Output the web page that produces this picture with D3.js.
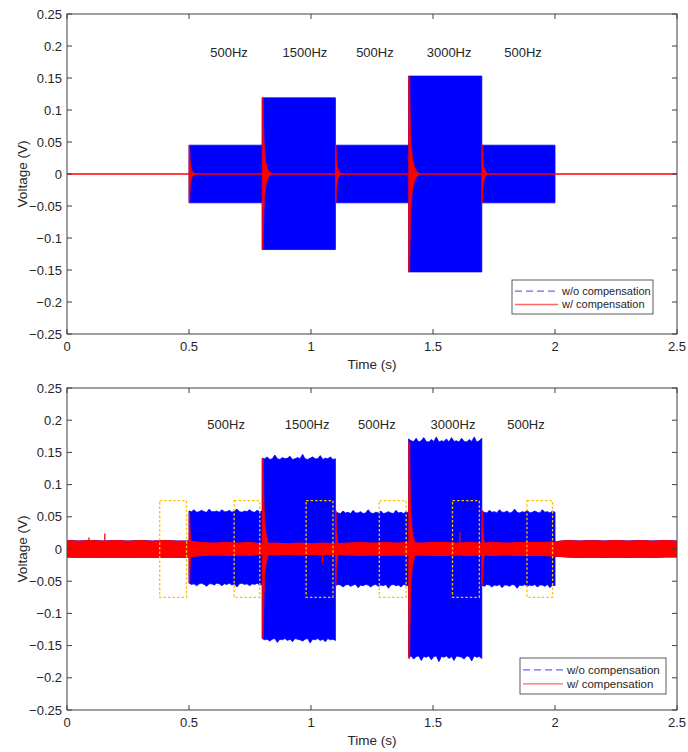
<!DOCTYPE html>
<html><head><meta charset="utf-8">
<script src="https://cdn.jsdelivr.net/npm/d3@7"></script>
<style>body{margin:0;background:#fff}svg{display:block}text{font-family:"Liberation Sans",Arial,Helvetica,sans-serif;fill:#262626}</style>
</head><body>
<script>
// ---------- DATA ----------
const segStart = [0.5, 0.8, 1.1, 1.4, 1.7];
const segEnd   = [0.8, 1.1, 1.4, 1.7, 2.0];
const freqLabels = ["500Hz", "1500Hz", "500Hz", "3000Hz", "500Hz"];
const xTicks = [0, 0.5, 1, 1.5, 2, 2.5];
const yTicks = [-0.25, -0.2, -0.15, -0.1, -0.05, 0, 0.05, 0.1, 0.15, 0.2, 0.25];
const legendLabels = ["w/o compensation", "w/ compensation"];

// top panel: ideal case
const topLabelT = [0.664, 0.975, 1.262, 1.566, 1.869];
const topLabelV = 0.19;
const topUpper = [0.045, 0.119, 0.045, 0.153, 0.045];
const topLower = [-0.045, -0.118, -0.045, -0.153, -0.045];
const topSpikeUp = [0.045, 0.119, 0.045, 0.153, 0.045];
const topSpikeLo = [-0.045, -0.118, -0.045, -0.153, -0.045];

// transient decay: time offsets (s) and relative amplitude
const decayDt  = [0, 0.005, 0.008, 0.012, 0.018, 0.026, 0.036, 0.05];
const decayRel = [1, 1, 0.55, 0.3, 0.16, 0.08, 0.03, 0];

// bottom panel: measured case (envelope samples across each tone segment)
const botLabelT = [0.652, 0.984, 1.27, 1.582, 1.881];
const botLabelV = 0.193;
const botUpper = [
  [0.059,0.058,0.061,0.057,0.058,0.060,0.058,0.057,0.062,0.058,0.058,0.059,0.057,0.061,0.058,0.058,0.060,0.057,0.059,0.062,0.058,0.057,0.059,0.058,0.061,0.058,0.057,0.060,0.058,0.059],
  [0.141,0.140,0.143,0.139,0.140,0.146,0.140,0.139,0.142,0.140,0.141,0.144,0.139,0.140,0.142,0.140,0.147,0.140,0.139,0.141,0.143,0.140,0.140,0.145,0.139,0.141,0.140,0.143,0.139,0.140],
  [0.058,0.056,0.055,0.059,0.056,0.057,0.055,0.060,0.056,0.056,0.058,0.055,0.056,0.061,0.056,0.055,0.057,0.056,0.059,0.055,0.056,0.058,0.056,0.055,0.060,0.056,0.057,0.055,0.058,0.056],
  [0.171,0.168,0.167,0.172,0.166,0.168,0.173,0.167,0.166,0.170,0.167,0.174,0.166,0.168,0.167,0.171,0.166,0.173,0.167,0.168,0.166,0.172,0.167,0.166,0.170,0.167,0.174,0.166,0.168,0.172],
  [0.059,0.057,0.056,0.060,0.057,0.058,0.056,0.061,0.057,0.057,0.059,0.056,0.057,0.062,0.057,0.056,0.058,0.057,0.060,0.056,0.057,0.059,0.057,0.056,0.061,0.057,0.058,0.056,0.059,0.057]
];
const botLower = [
  [-0.053,-0.055,-0.054,-0.057,-0.054,-0.053,-0.055,-0.058,-0.054,-0.054,-0.056,-0.053,-0.054,-0.057,-0.054,-0.055,-0.053,-0.056,-0.054,-0.059,-0.054,-0.053,-0.055,-0.054,-0.057,-0.054,-0.055,-0.053,-0.056,-0.055],
  [-0.139,-0.141,-0.140,-0.143,-0.140,-0.139,-0.145,-0.140,-0.141,-0.139,-0.142,-0.140,-0.144,-0.139,-0.140,-0.141,-0.143,-0.140,-0.139,-0.146,-0.140,-0.141,-0.139,-0.142,-0.140,-0.144,-0.139,-0.141,-0.140,-0.142],
  [-0.057,-0.055,-0.056,-0.059,-0.056,-0.055,-0.058,-0.056,-0.055,-0.060,-0.056,-0.057,-0.055,-0.056,-0.059,-0.056,-0.055,-0.058,-0.056,-0.057,-0.055,-0.061,-0.056,-0.055,-0.057,-0.056,-0.059,-0.055,-0.056,-0.058],
  [-0.168,-0.166,-0.171,-0.167,-0.166,-0.173,-0.167,-0.168,-0.166,-0.172,-0.167,-0.166,-0.175,-0.167,-0.168,-0.166,-0.170,-0.167,-0.173,-0.166,-0.167,-0.168,-0.171,-0.166,-0.167,-0.174,-0.166,-0.168,-0.167,-0.170],
  [-0.056,-0.058,-0.055,-0.056,-0.059,-0.056,-0.057,-0.055,-0.060,-0.056,-0.056,-0.058,-0.055,-0.056,-0.061,-0.056,-0.057,-0.055,-0.058,-0.056,-0.057,-0.055,-0.059,-0.056,-0.056,-0.058,-0.055,-0.060,-0.056,-0.057]
];
const botSpikeUp = [0.056, 0.140, 0.060, 0.166, 0.060];
const botSpikeLo = [-0.053, -0.138, -0.057, -0.170, -0.056];
// residual noise band of compensated signal, sampled every 0.05 s from 0 to 2.5
const noiseT = d3.range(51).map(i => i * 0.05);
const noiseUp = [0.013,0.012,0.013,0.012,0.013,0.012,0.013,0.012,0.013,0.012,0.012,
                 0.010,0.009,0.010,0.009,0.010,0.008,0.009,0.008,0.009,0.008,
                 0.009,0.008,0.009,0.010,0.009,0.010,0.009,0.010,0.009,0.010,
                 0.010,0.009,0.010,0.009,0.010,0.009,0.010,0.010,0.010,0.011,
                 0.013,0.012,0.013,0.012,0.013,0.012,0.013,0.012,0.013,0.012];
const noiseLo = [-0.012,-0.013,-0.012,-0.013,-0.012,-0.013,-0.012,-0.013,-0.012,-0.013,-0.012,
                 -0.010,-0.009,-0.010,-0.009,-0.010,-0.008,-0.009,-0.008,-0.009,-0.008,
                 -0.009,-0.008,-0.009,-0.010,-0.009,-0.010,-0.009,-0.010,-0.009,-0.010,
                 -0.010,-0.009,-0.010,-0.009,-0.010,-0.009,-0.010,-0.010,-0.010,-0.011,
                 -0.012,-0.013,-0.012,-0.013,-0.012,-0.013,-0.012,-0.013,-0.012,-0.012];
const noiseSpikeT = [0.09, 0.155, 1.047, 1.61];
const noiseSpikeV = [0.018, 0.024, -0.022, 0.026];
// dotted analysis windows
const winStart = [0.38, 0.685, 0.98, 1.28, 1.58, 1.885];
const winEnd   = [0.49, 0.79, 1.09, 1.39, 1.69, 1.99];
const winHi = 0.075, winLo = -0.075;

// ---------- DRAW ----------
const W = 688, H = 752;
const svg = d3.select("body").append("svg").attr("width", W).attr("height", H);
const BLUE = "#0000ff", RED = "#ff0000", AX = "#404040";

function panel(cfg) {
  const x = d3.scaleLinear().domain([0, 2.5]).range([67, 677]);
  const y = d3.scaleLinear().domain([-0.25, 0.25]).range([cfg.bottom, cfg.top]);
  const g = svg.append("g");
  const clipId = "clip" + cfg.id;
  svg.append("clipPath").attr("id", clipId).append("rect")
    .attr("x", x(0)).attr("y", y(0.25)).attr("width", x(2.5) - x(0)).attr("height", y(-0.25) - y(0.25));
  const plot = g.append("g").attr("clip-path", `url(#${clipId})`);
  const area = d3.area().x(d => x(d.t)).y0(d => y(d.lo)).y1(d => y(d.hi));

  // blue noise floor of uncompensated signal (barely wider than red)
  if (cfg.noise) {
    const pts = noiseT.map((t, k) => ({ t, hi: noiseUp[k], lo: noiseLo[k] }));
    plot.append("path").attr("d", area(pts)).attr("fill", BLUE).attr("stroke", BLUE).attr("stroke-width", 1.3);
  }

  // blue (uncompensated) segments
  segStart.forEach((s, i) => {
    let pts;
    if (Array.isArray(cfg.upper[i])) {
      const n = cfg.upper[i].length;
      pts = cfg.upper[i].map((u, k) => ({ t: s + k * (segEnd[i] - s) / (n - 1), hi: u, lo: cfg.lower[i][k] }));
    } else {
      pts = [{ t: s, hi: cfg.upper[i], lo: cfg.lower[i] }, { t: segEnd[i], hi: cfg.upper[i], lo: cfg.lower[i] }];
    }
    plot.append("path").attr("d", area(pts)).attr("fill", BLUE).attr("stroke", BLUE).attr("stroke-width", 0.8);
  });

  // red baseline
  if (cfg.noise) {
    const pts = noiseT.map((t, k) => ({ t, hi: noiseUp[k], lo: noiseLo[k] }));
    plot.append("path").attr("d", area(pts)).attr("fill", RED).attr("stroke", RED).attr("stroke-width", 1.2);
    noiseSpikeT.forEach((t, k) => {
      plot.append("line").attr("x1", x(t)).attr("x2", x(t)).attr("y1", y(0)).attr("y2", y(noiseSpikeV[k]))
        .attr("stroke", RED).attr("stroke-width", 1.3);
    });
  } else {
    plot.append("line").attr("x1", x(0)).attr("x2", x(2.5)).attr("y1", y(0)).attr("y2", y(0))
      .attr("stroke", RED).attr("stroke-width", 1.4);
  }
  // red transients at each switching instant
  segStart.forEach((s, i) => {
    const pts = decayDt.map((dt, k) => ({ t: s + dt * cfg.decayScale[i], hi: cfg.spikeUp[i] * decayRel[k], lo: cfg.spikeLo[i] * decayRel[k] }));
    plot.append("path").attr("d", area(pts)).attr("fill", RED).attr("stroke", RED).attr("stroke-width", 0.6);
  });

  // dotted windows
  if (cfg.windows) {
    winStart.forEach((s, i) => {
      plot.append("rect").attr("x", x(s)).attr("y", y(winHi)).attr("width", x(winEnd[i]) - x(s)).attr("height", y(winLo) - y(winHi))
        .attr("fill", "none").attr("stroke", "#ffc000").attr("stroke-width", 1.3).attr("stroke-dasharray", "2.5,2");
    });
  }

  // frequency labels
  cfg.labelT.forEach((t, i) => {
    g.append("text").attr("x", x(t)).attr("y", y(cfg.labelV)).attr("text-anchor", "middle").attr("dy", "0.35em")
      .attr("font-size", 13).text(freqLabels[i]);
  });

  // axes (MATLAB style, ticks inward, box on)
  const tl = 5;
  const ax = g.append("g");
  ax.append("rect").attr("x", x(0)).attr("y", y(0.25)).attr("width", x(2.5) - x(0)).attr("height", y(-0.25) - y(0.25))
    .attr("fill", "none").attr("stroke", AX).attr("stroke-width", 1);
  xTicks.forEach(t => {
    ax.append("line").attr("x1", x(t)).attr("x2", x(t)).attr("y1", y(-0.25)).attr("y2", y(-0.25) - tl).attr("stroke", AX);
    ax.append("line").attr("x1", x(t)).attr("x2", x(t)).attr("y1", y(0.25)).attr("y2", y(0.25) + tl).attr("stroke", AX);
    ax.append("text").attr("x", x(t)).attr("y", y(-0.25) + 17).attr("text-anchor", "middle").attr("font-size", 13).text(d3.format("")(t));
  });
  yTicks.forEach(v => {
    ax.append("line").attr("x1", x(0)).attr("x2", x(0) + tl).attr("y1", y(v)).attr("y2", y(v)).attr("stroke", AX);
    ax.append("line").attr("x1", x(2.5)).attr("x2", x(2.5) - tl).attr("y1", y(v)).attr("y2", y(v)).attr("stroke", AX);
    ax.append("text").attr("x", x(0) - 5).attr("y", y(v)).attr("dy", "0.35em").attr("text-anchor", "end").attr("font-size", 13)
      .text(d3.format("")(v));
  });
  g.append("text").attr("x", (x(0) + x(2.5)) / 2).attr("y", y(-0.25) + 35).attr("text-anchor", "middle").attr("font-size", 13.5).text("Time (s)");
  g.append("text").attr("transform", `translate(22,${y(0)}) rotate(-90)`).attr("text-anchor", "middle").attr("dy", "0.35em")
    .attr("font-size", 13.5).text("Voltage (V)");

  // legend
  const L = cfg.legend;
  const lg = g.append("g");
  lg.append("rect").attr("x", L.x).attr("y", L.y).attr("width", L.w).attr("height", L.h).attr("fill", "#fff").attr("stroke", "#333").attr("stroke-width", 0.8);
  [0, 1].forEach(k => {
    const ly = L.y + L.h * (k === 0 ? 0.33 : 0.72);
    lg.append("line").attr("x1", L.x + 3).attr("x2", L.x + 3 + L.line).attr("y1", ly).attr("y2", ly)
      .attr("stroke", k === 0 ? BLUE : RED).attr("stroke-opacity", 0.6).attr("stroke-width", 1.3)
      .attr("stroke-dasharray", k === 0 ? "7,4" : null);
    lg.append("text").attr("x", L.x + L.line + 7).attr("y", ly).attr("dy", "0.35em").attr("font-size", L.fs).text(legendLabels[k]);
  });
}

panel({
  id: "top", top: 14, bottom: 334,
  upper: topUpper, lower: topLower, spikeUp: topSpikeUp, spikeLo: topSpikeLo,
  decayScale: [0.6, 0.8, 0.6, 0.9, 0.6],
  labelT: topLabelT, labelV: topLabelV, noise: false, windows: false,
  legend: { x: 512, y: 280, w: 141, h: 34, line: 43, fs: 11 }
});
panel({
  id: "bot", top: 388, bottom: 710,
  upper: botUpper, lower: botLower, spikeUp: botSpikeUp, spikeLo: botSpikeLo,
  decayScale: [0.6, 0.9, 0.6, 0.9, 0.6],
  labelT: botLabelT, labelV: botLabelV, noise: true, windows: true,
  legend: { x: 520, y: 658, w: 146, h: 36, line: 40, fs: 11.5 }
});
</script>
</body></html>
